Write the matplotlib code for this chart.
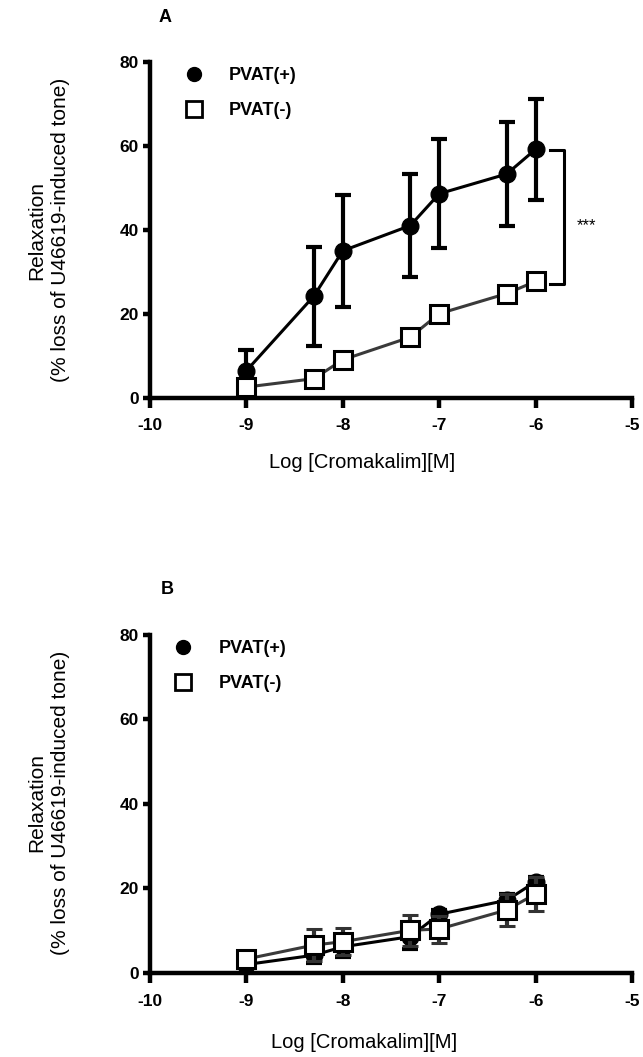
import matplotlib
matplotlib.use('Agg')
import matplotlib.pyplot as plt
from matplotlib.lines import Line2D

plt.rcParams['font.family'] = ['Liberation Sans', 'DejaVu Sans']
plt.rcParams['axes.unicode_minus'] = False

# log concentration of cromakalim
logc = [-9, -8.3, -8, -7.3, -7, -6.3, -6]

# panel A
a_plus = [6.4, 24.2, 35.0, 41.0, 48.6, 53.3, 59.2]
a_plus_err = [5.0, 11.8, 13.4, 12.3, 13.0, 12.4, 12.1]
a_minus = [2.5, 4.5, 9.0, 14.4, 20.0, 24.8, 27.7]
a_minus_err = [0.8, 0.6, 0.8, 0.7, 1.6, 0.8, 1.5]

# panel B
b_plus = [2.0, 4.2, 6.2, 8.6, 13.9, 17.2, 21.6]
b_plus_err = [0.8, 1.9, 2.4, 3.0, 1.0, 1.6, 1.2]
b_minus = [3.3, 6.6, 7.4, 10.1, 10.4, 14.9, 18.7]
b_minus_err = [1.0, 3.8, 3.2, 3.7, 3.2, 3.9, 4.0]

xticks = [-10, -9, -8, -7, -6, -5]
yticks = [0, 20, 40, 60, 80]
labels = ['PVAT(+)', 'PVAT(-)']

fig = plt.figure(figsize=(6.43, 10.57), dpi=100)


def panel(rect, plus, plus_err, minus, minus_err, minus_ecol):
    ax = fig.add_axes(rect)
    ax.errorbar(logc, plus, yerr=plus_err, color='black', lw=2.2,
                marker='o', ms=12, mfc='black', mec='black',
                elinewidth=3, capsize=6, capthick=3, zorder=3, clip_on=False)
    ax.errorbar(logc, minus, yerr=minus_err, color='#3a3a3a', lw=2.2,
                ecolor=minus_ecol, marker='s', ms=13, mfc='white', mec='black',
                mew=2.2, elinewidth=3, capsize=6, capthick=3, zorder=4,
                clip_on=False)
    ax.set_xlim(-10, -5)
    ax.set_ylim(0, 80)
    ax.set_xticks(xticks)
    ax.set_yticks(yticks)
    for s in ['top', 'right']:
        ax.spines[s].set_visible(False)
    for s in ['left', 'bottom']:
        ax.spines[s].set_linewidth(3.2)
    ax.tick_params(axis='x', length=7, width=3.2, pad=8, labelsize=12.5)
    ax.tick_params(axis='y', length=5, width=3.2, pad=3, labelsize=12.5)
    for t in ax.get_xticklabels() + ax.get_yticklabels():
        t.set_fontweight('bold')
    handles = [
        Line2D([], [], ls='none', marker='o', ms=10, mfc='black', mec='black'),
        Line2D([], [], ls='none', marker='s', ms=11.5, mfc='white', mec='black', mew=2),
    ]
    leg = ax.legend(handles, labels, loc='upper left', frameon=False,
                    prop={'weight': 'bold', 'size': 13}, handlelength=1,
                    handletextpad=1.45, labelspacing=1.0, borderpad=0,
                    borderaxespad=0)
    return ax, leg


axA, legA = panel([0.2333, 0.6239, 0.7496, 0.3174], a_plus, a_plus_err,
                  a_minus, a_minus_err, 'black')
legA.set_bbox_to_anchor((0.072, 0.985), transform=axA.transAxes)

axB, legB = panel([0.2333, 0.0795, 0.7496, 0.3198], b_plus, b_plus_err,
                  b_minus, b_minus_err, '#333333')
legB.set_bbox_to_anchor((0.05, 0.985), transform=axB.transAxes)

# significance bracket in panel A
axA.plot([-5.85, -5.71, -5.71, -5.85], [59.1, 59.1, 27.1, 27.1],
         color='black', lw=2.2, clip_on=False)
axA.text(-5.47, 41.0, '***', ha='center', va='center', fontsize=12)

# panel letters and axis titles
fig.text(165 / 643, 1 - 18 / 1057, 'A', fontsize=13, fontweight='bold',
         ha='center', va='center')
fig.text(167 / 643, 1 - 590 / 1057, 'B', fontsize=13, fontweight='bold',
         ha='center', va='center')

ylab = 'Relaxation\n(% loss of U46619-induced tone)'
fig.text(49 / 643, 1 - 230 / 1057, ylab, rotation=90, fontsize=15,
         ha='center', va='center', linespacing=1.3, multialignment='center')
fig.text(49 / 643, 1 - 803 / 1057, ylab, rotation=90, fontsize=15,
         ha='center', va='center', linespacing=1.3, multialignment='center')

fig.text(362 / 643, 1 - 463 / 1057, 'Log [Cromakalim][M]', fontsize=14.5,
         ha='center', va='center')
fig.text(364 / 643, 1 - 1043 / 1057, 'Log [Cromakalim][M]', fontsize=14.5,
         ha='center', va='center')

fig.savefig('out.png', dpi=100)
